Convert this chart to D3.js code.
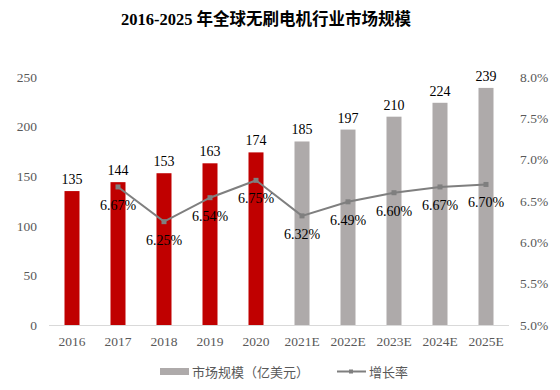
<!DOCTYPE html>
<html>
<head>
<meta charset="utf-8">
<script src="https://cdn.jsdelivr.net/npm/d3@7"></script>
<style>
  body { margin: 0; background: #fff; }
  svg { display: block; }
  text { font-family: "Liberation Serif", "Noto Sans CJK SC", serif; }
</style>
</head>
<body>
<svg id="chart" width="560" height="390"></svg>
<script>
var years = ['2016', '2017', '2018', '2019', '2020', '2021E', '2022E', '2023E', '2024E', '2025E'];
var marketSize = [135, 144, 153, 163, 174, 185, 197, 210, 224, 239];
var growthYears = ['2017', '2018', '2019', '2020', '2021E', '2022E', '2023E', '2024E', '2025E'];
var growthRate = [6.67, 6.25, 6.54, 6.75, 6.32, 6.49, 6.60, 6.67, 6.70];
var leftTicks = [0, 50, 100, 150, 200, 250];
var rightTicks = [5.0, 5.5, 6.0, 6.5, 7.0, 7.5, 8.0];

var svg = d3.select('#chart');
var plotLeft = 49, plotRight = 509, plotTop = 77, plotBottom = 325;

var x = d3.scaleBand().domain(years).range([plotLeft, plotRight]);
var y = d3.scaleLinear().domain([0, 250]).range([plotBottom, plotTop]);
var y2 = d3.scaleLinear().domain([5, 8]).range([plotBottom, plotTop]);

// title
svg.append('text')
  .attr('x', 266).attr('y', 25)
  .attr('text-anchor', 'middle')
  .style('font-size', '16.5px')
  .style('font-weight', 'bold')
  .attr('fill', '#000')
  .text('2016-2025 年全球无刷电机行业市场规模');

// left axis
var yAxis = svg.append('g')
  .attr('transform', 'translate(37,0)')
  .call(d3.axisLeft(y).tickValues(leftTicks).tickSize(0).tickPadding(0));
yAxis.select('.domain').remove();
yAxis.selectAll('text')
  .style('font-family', '"Liberation Serif", serif')
  .style('font-size', '13.5px')
  .attr('fill', '#595959');

// right axis
var y2Axis = svg.append('g')
  .attr('transform', 'translate(520,0)')
  .call(d3.axisRight(y2).tickValues(rightTicks).tickSize(0).tickPadding(0)
    .tickFormat(d => d.toFixed(1) + '%'));
y2Axis.select('.domain').remove();
y2Axis.selectAll('text')
  .style('font-family', '"Liberation Serif", serif')
  .style('font-size', '13.5px')
  .attr('fill', '#595959');

// bars
var barW = 15;
svg.selectAll('rect.bar')
  .data(years)
  .enter()
  .append('rect')
  .classed('bar', true)
  .attr('x', (d) => x(d) + x.bandwidth() / 2 - barW / 2)
  .attr('y', (d, i) => y(marketSize[i]))
  .attr('width', barW)
  .attr('height', (d, i) => plotBottom - y(marketSize[i]))
  .attr('fill', (d) => d.indexOf('E') >= 0 ? '#aeaaaa' : '#c00000');

// baseline
svg.append('line')
  .attr('x1', plotLeft).attr('x2', plotRight)
  .attr('y1', plotBottom + 0.5).attr('y2', plotBottom + 0.5)
  .attr('stroke', '#d9d9d9').attr('stroke-width', 1);

// x labels
var xAxis = svg.append('g')
  .attr('transform', 'translate(0,' + plotBottom + ')')
  .call(d3.axisBottom(x).tickSize(0).tickPadding(11));
xAxis.select('.domain').remove();
xAxis.selectAll('text')
  .style('font-family', '"Liberation Serif", serif')
  .style('font-size', '13.5px')
  .attr('fill', '#595959');

// bar value labels
svg.selectAll('text.val')
  .data(years)
  .enter()
  .append('text')
  .classed('val', true)
  .attr('x', (d) => x(d) + x.bandwidth() / 2)
  .attr('y', (d, i) => y(marketSize[i]) - 7)
  .attr('text-anchor', 'middle')
  .style('font-size', '14px')
  .attr('fill', '#000')
  .text((d, i) => marketSize[i]);

// growth line
var line = d3.line()
  .x((d, i) => x(growthYears[i]) + x.bandwidth() / 2)
  .y((d) => y2(d));
svg.append('path')
  .datum(growthRate)
  .attr('d', line)
  .attr('fill', 'none')
  .attr('stroke', '#7f7f7f')
  .attr('stroke-width', 2);

svg.selectAll('rect.pt')
  .data(growthRate)
  .enter()
  .append('rect')
  .classed('pt', true)
  .attr('x', (d, i) => x(growthYears[i]) + x.bandwidth() / 2 - 2.5)
  .attr('y', (d) => y2(d) - 2.5)
  .attr('width', 5).attr('height', 5)
  .attr('fill', '#7f7f7f');

svg.selectAll('text.pct')
  .data(growthRate)
  .enter()
  .append('text')
  .classed('pct', true)
  .attr('x', (d, i) => x(growthYears[i]) + x.bandwidth() / 2)
  .attr('y', (d) => y2(d) + 23)
  .attr('text-anchor', 'middle')
  .style('font-size', '14px')
  .attr('fill', '#000')
  .text((d) => d.toFixed(2) + '%');

// legend
var lg = svg.append('g');
lg.append('rect')
  .attr('x', 160).attr('y', 368).attr('width', 29).attr('height', 7)
  .attr('fill', '#aeaaaa');
lg.append('text')
  .attr('x', 192).attr('y', 377)
  .style('font-size', '13px')
  .style('font-family', '"Noto Sans CJK SC", sans-serif')
  .attr('fill', '#595959')
  .text('市场规模（亿美元）');
lg.append('line')
  .attr('x1', 337).attr('x2', 366).attr('y1', 371.5).attr('y2', 371.5)
  .attr('stroke', '#7f7f7f').attr('stroke-width', 2);
lg.append('rect')
  .attr('x', 349).attr('y', 369.5).attr('width', 4).attr('height', 4)
  .attr('fill', '#7f7f7f');
lg.append('text')
  .attr('x', 369).attr('y', 377)
  .style('font-size', '13px')
  .style('font-family', '"Noto Sans CJK SC", sans-serif')
  .attr('fill', '#595959')
  .text('增长率');
</script>
</body>
</html>
